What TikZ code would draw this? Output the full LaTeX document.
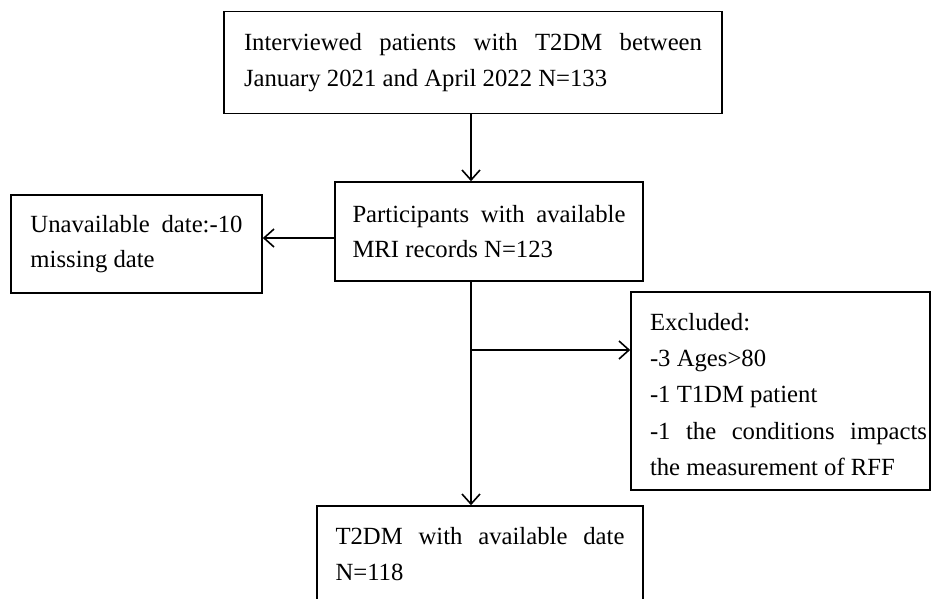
\documentclass[tikz,border=0pt]{standalone}
\usepackage{fontspec}
\setmainfont{Liberation Serif}
\usetikzlibrary{arrows.meta}
\begin{document}
\begin{tikzpicture}[x=1pt,y=-1pt,
  box/.style={draw, line width=1.6pt, inner sep=0pt, align=justify,
    font=\fontsize{24.7}{35.5}\selectfont},
  txt/.style={inner sep=0pt, align=justify, font=\fontsize{24.7}{36.3}\selectfont},
  arr/.style={line width=1.6pt, -{Straight Barb[length=10pt,width=18pt,line width=1.6pt]}}]
\useasboundingbox (0,0) rectangle (932,598);
\node[box, minimum width=498, minimum height=102, text width=458] (top) at (473,62.5)
  {Interviewed patients with T2DM between\linebreak January 2021 and April 2022 N=133};
\node[box, minimum width=308, minimum height=99, text width=273] (mid) at (489,231.5)
  {Participants with available\linebreak MRI records N=123};
\node[box, minimum width=251, minimum height=98, text width=212] (left) at (136.5,244)
  {Unavailable date:-10\linebreak missing date};
\node[box, minimum width=299, minimum height=198] (right) at (780.5,391) {};
\node[txt, text width=277] (righttext) at (788.5,394.5)
  {Excluded:\\ -3 Ages>80\\ -1 T1DM patient\\ -1 the conditions impacts\linebreak the measurement of RFF};
\node[box, minimum width=326, minimum height=96, text width=289] (bot) at (480,554)
  {T2DM with available date\linebreak N=118};
\coordinate (t) at ([xshift=-2pt]top.south);
\draw[arr] (t) -- (t |- mid.north);
\coordinate (a) at ([yshift=-6.5pt]mid.west);
\draw[arr] (a) -- (a -| left.east);
\coordinate (b) at ([xshift=-18pt]mid.south);
\draw[arr] (b) -- (b |- bot.north);
\coordinate (c) at (471,350);
\draw[arr] (c) -- (c -| right.west);
\end{tikzpicture}
\end{document}
